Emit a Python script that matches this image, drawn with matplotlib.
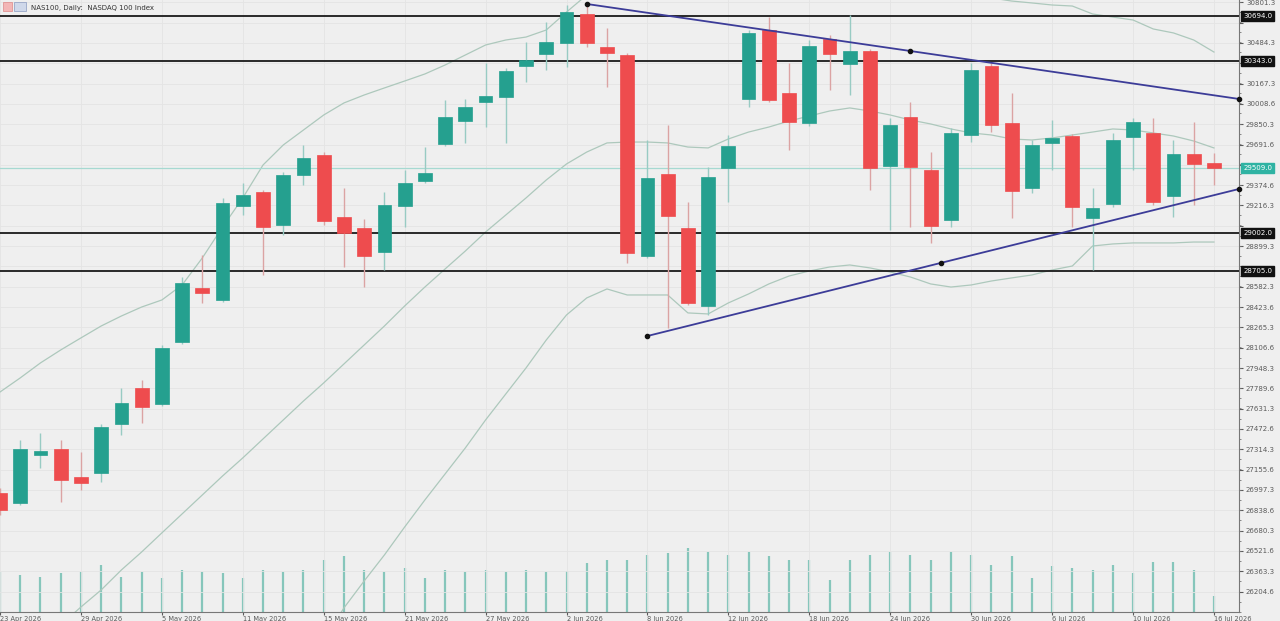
import matplotlib
matplotlib.use("Agg")
import matplotlib.pyplot as plt
from matplotlib.patches import Rectangle
from matplotlib.ticker import FixedLocator, AutoMinorLocator

# daily candles, NAS100
opens = [26974, 26896, 27270, 27317, 27098, 27130, 27512, 27793, 27668, 28151,
         28573, 28479, 29212, 29321, 29064, 29454, 29610, 29126, 29041, 28853,
         29212, 29407, 29696, 29875, 30023, 30062, 30304, 30398, 30484, 30710,
         30452, 30390, 28822, 29462, 29041, 28432, 29509, 30047, 30585, 30094,
         29860, 30515, 30320, 30421, 29524, 29906, 29493, 29103, 29766, 30304,
         29860, 29353, 29704, 29758, 29119, 29228, 29750, 29782, 29290, 29618,
         29548]
highs = [27013, 27387, 27442, 27387, 27293, 27512, 27793, 27855, 28128, 28658,
         28830, 29275, 29392, 29337, 29477, 29688, 29633, 29353, 29111, 29321,
         29493, 29672, 30039, 30047, 30328, 30289, 30491, 30647, 30780, 30788,
         30601, 30406, 29727, 29844, 29243, 29516, 29766, 30585, 30686, 30328,
         30507, 30546, 30702, 30437, 29899, 30023, 29633, 29821, 30328, 30328,
         30094, 29727, 29883, 29774, 29353, 29782, 29899, 29899, 29727, 29867,
         29626]
lows = [26802, 26880, 27169, 26903, 26997, 27059, 27426, 27520, 27652, 28136,
        28456, 28463, 29142, 28674, 28986, 29376, 29064, 28736, 28580, 28713,
        29048, 29392, 29680, 29704, 29828, 29704, 30179, 30273, 30296, 30452,
        30140, 28768, 28807, 28261, 28440, 28362, 29243, 29984, 30023, 29649,
        29836, 30117, 30078, 29337, 29025, 29048, 28924, 29048, 29711, 29789,
        29119, 29314, 29493, 29048, 28713, 29204, 29493, 29220, 29126, 29220,
        29376]
closes = [26841, 27317, 27301, 27075, 27052, 27488, 27676, 27644, 28105, 28612,
          28534, 29236, 29298, 29048, 29454, 29587, 29095, 29002, 28822, 29220,
          29392, 29470, 29906, 29984, 30070, 30265, 30351, 30491, 30725, 30484,
          30406, 28846, 29431, 29134, 28456, 29438, 29680, 30562, 30039, 29867,
          30460, 30398, 30421, 29509, 29844, 29516, 29056, 29782, 30273, 29844,
          29329, 29688, 29743, 29204, 29197, 29727, 29867, 29243, 29618, 29540,
          29509]
volumes = [160, 148, 140, 156, 160, 188, 140, 160, 136, 168,
           160, 156, 136, 168, 160, 168, 208, 224, 168, 160,
           176, 136, 168, 160, 168, 160, 168, 160, 164, 196,
           208, 208, 228, 236, 256, 240, 228, 240, 224, 208,
           208, 128, 208, 228, 240, 228, 208, 240, 228, 188,
           224, 136, 184, 176, 168, 188, 156, 200, 200, 168,
           64]

# Bollinger bands (20)
bb_upper = [27761, 27871, 27988, 28089, 28183, 28276, 28354, 28424, 28479, 28596,
            28807, 29048, 29275, 29532, 29688, 29805, 29922, 30016, 30078, 30133,
            30187, 30242, 30312, 30390, 30468, 30507, 30530, 30585, 30725, 30858,
            30975, 31053, 31170, 31248, 31287, 31287, 31248, 31209, 31170, 31131,
            31092, 31053, 31014, 30975, 30936, 30913, 30897, 30881, 30858, 30835,
            30811, 30796, 30780, 30772, 30710, 30686, 30663, 30593, 30562, 30507,
            30413]
bb_middle = [25515, 25632, 25788, 25944, 26084, 26217, 26373, 26513, 26662, 26810,
             26958, 27106, 27247, 27395, 27543, 27691, 27832, 27980, 28128, 28276,
             28432, 28580, 28721, 28861, 29009, 29142, 29275, 29415, 29540, 29633,
             29704, 29711, 29711, 29704, 29672, 29665, 29735, 29789, 29828, 29875,
             29914, 29953, 29977, 29953, 29922, 29883, 29852, 29813, 29782, 29766,
             29735, 29727, 29743, 29766, 29789, 29813, 29805, 29782, 29758, 29719,
             29665]
bb_lower = [23331, 23425, 23604, 23799, 23986, 24158, 24392, 24602, 24797, 24969,
            25109, 25203, 25281, 25359, 25476, 25632, 25827, 26077, 26287, 26490,
            26708, 26919, 27122, 27325, 27543, 27746, 27949, 28167, 28362, 28495,
            28565, 28518, 28518, 28518, 28378, 28370, 28456, 28526, 28604, 28666,
            28705, 28736, 28752, 28729, 28697, 28658, 28604, 28580, 28596, 28627,
            28651, 28674, 28713, 28744, 28900, 28916, 28924, 28924, 28924, 28931,
            28931]

# horizontal support / resistance levels
levels = [30694.0, 30343.0, 29002.0, 28705.0]

# triangle trend lines: (bar index, price) anchors
upper_trend_x = [29, 45, 61.24]
upper_trend_y = [30788, 30421, 30047]
lower_trend_x = [32, 46.5, 61.24]
lower_trend_y = [28198, 28768, 29345]

date_ticks = [0, 4, 8, 12, 16, 20, 24, 28, 32, 36, 40, 44, 48, 52, 56, 60]
date_labels = ["23 Apr 2026", "29 Apr 2026", "5 May 2026", "11 May 2026",
               "15 May 2026", "21 May 2026", "27 May 2026", "2 Jun 2026",
               "8 Jun 2026", "12 Jun 2026", "18 Jun 2026", "24 Jun 2026",
               "30 Jun 2026", "6 Jul 2026", "10 Jul 2026", "16 Jul 2026"]
price_ticks = [26204.6, 26363.3, 26521.6, 26680.3, 26838.6, 26997.3, 27155.6,
               27314.3, 27472.6, 27631.3, 27789.6, 27948.3, 28106.6, 28265.3,
               28423.6, 28582.3, 28740.6, 28899.3, 29057.6, 29216.3, 29374.6,
               29533.3, 29691.6, 29850.3, 30008.6, 30167.3, 30325.6, 30484.3,
               30642.6, 30801.3]

BG = "#efefef"
UP = "#25a08f"
DOWN = "#ee4c4e"
UP_WICK = "#98cbc3"
DOWN_WICK = "#dba3a3"
BAND = "#adc8bc"
TREND = "#3c3c98"

x = list(range(len(opens)))

fig = plt.figure(figsize=(12.8, 6.21), dpi=100, facecolor=BG)
ax = fig.add_axes([0.0, 0.0145, 0.968, 0.9855], facecolor=BG)

# volume on its own scale in the bottom of the pane
axv = ax.twinx()
axv.vlines(x, 0, volumes, color="#86c6bb", lw=1.6, zorder=1)
axv.set_ylim(0, 2448)
axv.set_yticks([])
for s in axv.spines.values():
    s.set_visible(False)
ax.set_zorder(axv.get_zorder() + 1)
ax.patch.set_visible(False)

ax.grid(True, color="#e4e4e4", lw=0.6)

# bands
ax.plot(x, bb_upper, color=BAND, lw=0.9, zorder=2)
ax.plot(x, bb_middle, color=BAND, lw=0.9, zorder=2)
ax.plot(x, bb_lower, color=BAND, lw=0.9, zorder=2)

# current price line
ax.axhline(closes[-1], color="#a6d9d1", lw=0.9, zorder=2)

# levels
for lv in levels:
    ax.axhline(lv, color="#1a1a1a", lw=1.3, zorder=3)

# candles
up = [c >= o for o, c in zip(opens, closes)]
wick_cols = [UP_WICK if u else DOWN_WICK for u in up]
body_cols = [UP if u else DOWN for u in up]
ax.vlines(x, lows, highs, colors=wick_cols, lw=1.0, zorder=4)
ax.bar(x, [max(abs(c - o), 25) for o, c in zip(opens, closes)],
       bottom=[min(o, c) for o, c in zip(opens, closes)],
       width=0.68, color=body_cols, edgecolor=body_cols, lw=0.5, zorder=5)

# triangle
for tx, ty in ((upper_trend_x, upper_trend_y), (lower_trend_x, lower_trend_y)):
    ax.plot(tx, ty, color=TREND, lw=1.3, zorder=6, marker="o", markersize=3,
            markerfacecolor="#111111", markeredgecolor="#111111", clip_on=False)

ax.set_xlim(0.148, 61.24)
ax.set_ylim(26045, 30819)

# axes / ticks -- labels hidden where a price box sits on top of them
boxed = levels + [closes[-1]]
tick_labels = []
for p in price_ticks:
    if any(abs(p - b) < 80 for b in boxed):
        tick_labels.append("")
    else:
        tick_labels.append(f"{p:.1f}")
ax.yaxis.tick_right()
ax.yaxis.set_major_locator(FixedLocator(price_ticks))
ax.set_yticklabels(tick_labels)
ax.yaxis.set_minor_locator(AutoMinorLocator(2))
ax.tick_params(axis="y", which="major", length=3, pad=2, labelsize=5,
               colors="#5a5a5a")
ax.tick_params(axis="y", which="minor", length=1.5, colors="#777777")
ax.set_xticks(date_ticks)
ax.set_xticklabels(date_labels, ha="left")
ax.tick_params(axis="x", length=2, pad=1, labelsize=4.8, colors="#5a5a5a")
for side in ("top", "left"):
    ax.spines[side].set_visible(False)
ax.spines["right"].set_color("#777777")
ax.spines["bottom"].set_color("#777777")

# price boxes on the axis
for lv in levels:
    ax.annotate(f"{lv:.1f}", xy=(1.0, lv), xycoords=("axes fraction", "data"),
                xytext=(3, 0), textcoords="offset points", va="center",
                ha="left", fontsize=5, color="white", zorder=10,
                bbox=dict(boxstyle="square,pad=0.25", fc="#111111", ec="#111111"),
                annotation_clip=False)
ax.annotate(f"{closes[-1]:.1f}", xy=(1.0, closes[-1]),
            xycoords=("axes fraction", "data"), xytext=(3, 0),
            textcoords="offset points", va="center", ha="left", fontsize=5,
            color="white", zorder=10,
            bbox=dict(boxstyle="square,pad=0.25", fc="#2fb3a3", ec="#2fb3a3"),
            annotation_clip=False)

# small header with the two chart icons
fig.patches.append(Rectangle((0.002, 0.982), 0.007, 0.014, transform=fig.transFigure,
                             fc="#f3b6b6", ec="#d88", lw=0.5))
fig.patches.append(Rectangle((0.011, 0.982), 0.009, 0.014, transform=fig.transFigure,
                             fc="#cfd8ea", ec="#8a9ac0", lw=0.5))
fig.text(0.024, 0.992, "NAS100, Daily:  NASDAQ 100 Index", fontsize=5,
         color="#333333", va="top", ha="left")

fig.savefig("out.png", dpi=100, facecolor=BG)
